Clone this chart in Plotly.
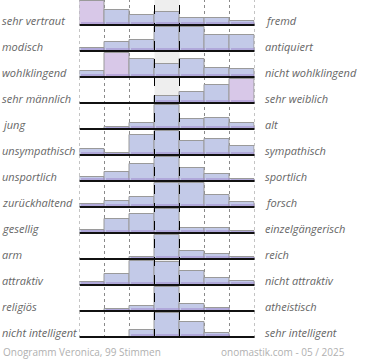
import plotly.graph_objects as go

left_labels = ["sehr vertraut", "modisch", "wohlklingend", "sehr männlich", "jung",
               "unsympathisch", "unsportlich", "zurückhaltend", "gesellig", "arm",
               "attraktiv", "religiös", "nicht intelligent"]
right_labels = ["fremd", "antiquiert", "nicht wohlklingend", "sehr weiblich", "alt",
                "sympathisch", "sportlich", "forsch", "einzelgängerisch", "reich",
                "nicht attraktiv", "atheistisch", "sehr intelligent"]

# relative bar heights per row (row max = 100), 7 scale steps each
row_values = [
    [100, 64, 40, 53, 28, 28, 18],
    [11, 36, 47, 100, 100, 67, 67],
    [24, 100, 74, 54, 74, 38, 32],
    [0, 0, 0, 28, 47, 73, 100],
    [0, 10, 24, 100, 42, 45, 24],
    [23, 10, 85, 100, 59, 65, 36],
    [18, 36, 72, 100, 54, 29, 8],
    [14, 25, 43, 100, 100, 50, 19],
    [12, 60, 80, 100, 21, 21, 8],
    [0, 0, 10, 100, 32, 21, 10],
    [12, 44, 100, 95, 58, 28, 16],
    [0, 10, 22, 100, 28, 11, 0],
    [0, 0, 30, 100, 61, 17, 0],
]

footer_left = "Onogramm Veronica, 99 Stimmen"
footer_right = "onomastik.com - 05 / 2025"

W, H = 370, 360
ROW_H = 26
FIRST_BASE = 25
BAR_MAX = 24
n_rows = len(row_values)

xs, bases, ys, colors = [], [], [], []
sx, sbase, sy = [], [], []
for i, vals in enumerate(row_values):
    base = -(FIRST_BASE + ROW_H * i)
    mx = max(vals)
    for j, v in enumerate(vals):
        h = v / mx * BAR_MAX
        xs.append(j)
        bases.append(base)
        ys.append(h)
        pink = (v == mx and vals[3] < 0.9 * mx)
        colors.append("#d8c8e8" if pink else "#c3cae8")
        if v > 0:
            sx.append(j)
            sbase.append(base)
            sy.append(min(h, 3))

fig = go.Figure()
fig.add_trace(go.Bar(x=xs, y=ys, base=bases, width=1,
                     marker=dict(color=colors, line=dict(color="#9a9a9a", width=1)),
                     hoverinfo="skip"))
fig.add_trace(go.Bar(x=sx, y=sy, base=sbase, width=0.96,
                     marker=dict(color="rgba(160,140,205,0.55)", line=dict(width=0)),
                     hoverinfo="skip"))

top = 0
bottom = -(FIRST_BASE + ROW_H * (n_rows - 1)) - 1
shapes = []
shapes.append(dict(type="rect", xref="x", yref="y", x0=2.5, x1=3.5, y0=bottom, y1=top,
                   fillcolor="#eeeeee", line=dict(width=0), layer="below"))
for b in [-0.5, 0.5, 1.5, 4.5, 5.5, 6.5]:
    shapes.append(dict(type="line", xref="x", yref="y", x0=b, x1=b, y0=bottom, y1=top,
                       line=dict(color="#8a8a8a", width=1, dash="dot"), layer="below"))
for b in [2.5, 3.5]:
    shapes.append(dict(type="line", xref="x", yref="y", x0=b, x1=b, y0=bottom, y1=top,
                       line=dict(color="#000000", width=1, dash="dash"), layer="above"))
for i in range(n_rows):
    base = -(FIRST_BASE + ROW_H * i)
    shapes.append(dict(type="line", xref="x", yref="y", x0=-0.5, x1=6.55, y0=base, y1=base,
                       line=dict(color="#111111", width=2), layer="above"))

annotations = []
font_lbl = dict(family="Open Sans", size=11, color="#666666", style="italic")
for i in range(n_rows):
    base = -(FIRST_BASE + ROW_H * i)
    annotations.append(dict(x=0, xref="paper", y=base + 5, yref="y", text=left_labels[i],
                            showarrow=False, xanchor="left", yanchor="middle", font=font_lbl))
    annotations.append(dict(x=263 / W, xref="paper", y=base + 5, yref="y", text=right_labels[i],
                            showarrow=False, xanchor="left", yanchor="middle", font=font_lbl))
font_ft = dict(family="Open Sans", size=10, color="#b0b0b0")
annotations.append(dict(x=1 / W, xref="paper", y=-352, yref="y", text=footer_left,
                        showarrow=False, xanchor="left", yanchor="middle", font=font_ft))
annotations.append(dict(x=347 / W, xref="paper", y=-352, yref="y", text=footer_right,
                        showarrow=False, xanchor="right", yanchor="middle", font=font_ft))

fig.update_layout(
    width=W, height=H, margin=dict(l=0, r=0, t=0, b=0),
    paper_bgcolor="white", plot_bgcolor="rgba(0,0,0,0)",
    barmode="overlay", bargap=0, showlegend=False,
    xaxis=dict(domain=[79.5 / W, 254.5 / W], range=[-0.5, 6.5], visible=False, fixedrange=True),
    yaxis=dict(domain=[0, 1], range=[-H, 0], visible=False, fixedrange=True),
    shapes=shapes, annotations=annotations,
)
fig.write_html("out.html", config={"displayModeBar": False},
               post_script="document.body.style.margin='0';document.body.style.padding='0';")
